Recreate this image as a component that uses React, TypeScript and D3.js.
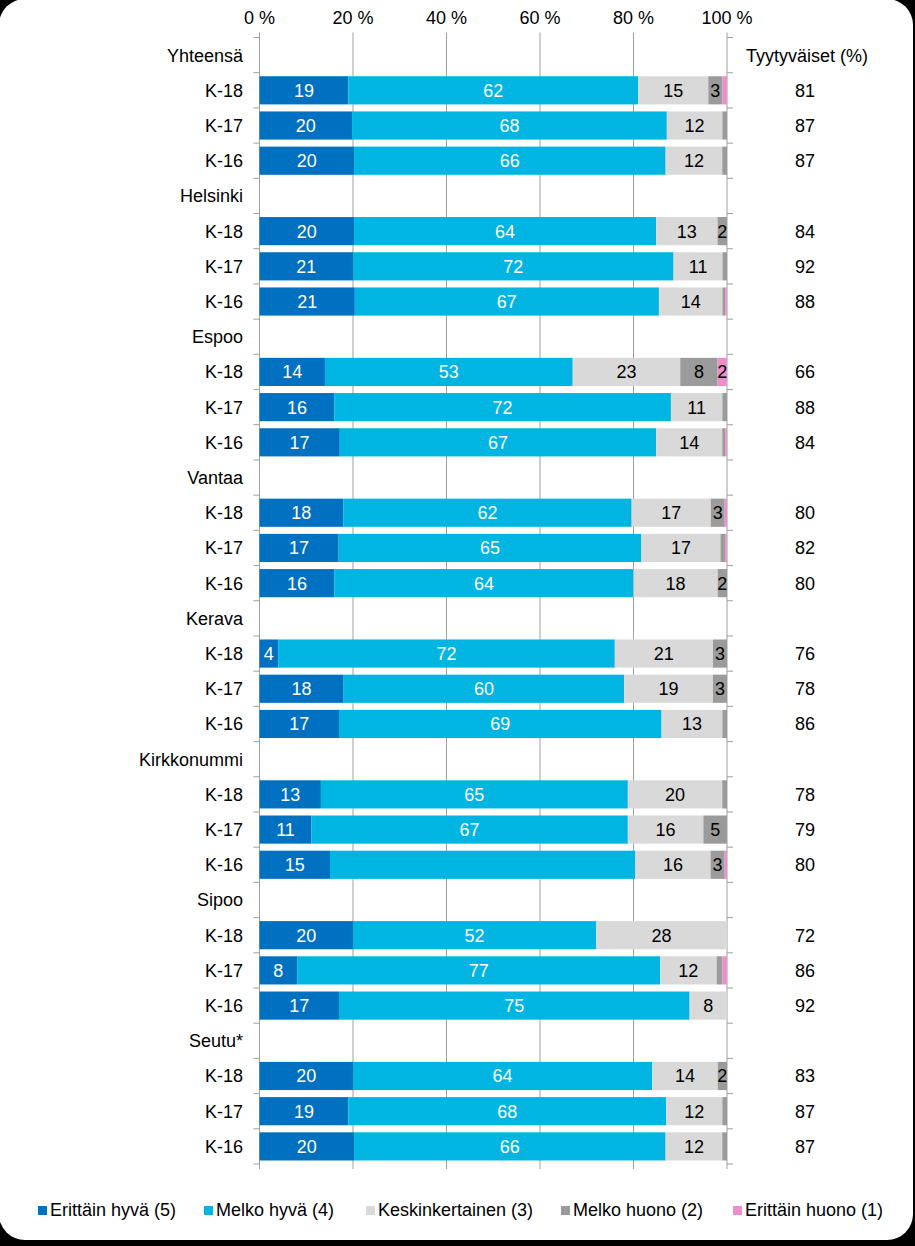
import React from "react";
import * as d3 from "d3";

const groups = ["Yhteensä", "Helsinki", "Espoo", "Vantaa", "Kerava", "Kirkkonummi", "Sipoo", "Seutu*"];
const years = ["K-18", "K-17", "K-16"];
const seriesNames = ["Erittäin hyvä (5)", "Melko hyvä (4)", "Keskinkertainen (3)", "Melko huono (2)", "Erittäin huono (1)"];
const seriesColors = ["#0070C0", "#00B5E2", "#D9D9D9", "#9B9B9B", "#EE8FCB"];
const labelColors = ["#ffffff", "#ffffff", "#000000", "#000000", "#000000"];

// values in group order, each group K-18, K-17, K-16
const erittainHyva = [19, 20, 20, 20, 21, 21, 14, 16, 17, 18, 17, 16, 4, 18, 17, 13, 11, 15, 20, 8, 17, 20, 19, 20];
const melkoHyva = [62, 68, 66, 64, 72, 67, 53, 72, 67, 62, 65, 64, 72, 60, 69, 65, 67, 65, 52, 77, 75, 64, 68, 66];
const keskinkertainen = [15, 12, 12, 13, 11, 14, 23, 11, 14, 17, 17, 18, 21, 19, 13, 20, 16, 16, 28, 12, 8, 14, 12, 12];
const melkoHuono = [3, 1, 1, 2, 1, 0.6, 8, 1, 0.6, 3, 1, 2, 3, 3, 1, 1, 5, 3, 0, 1.2, 0, 2, 1, 1];
const erittainHuono = [1, 0, 0, 0, 0, 0.4, 2, 0, 0.4, 0.5, 0.4, 0, 0, 0, 0, 0, 0, 0.5, 0, 1, 0, 0, 0, 0];
const tyytyvaiset = [81, 87, 87, 84, 92, 88, 66, 88, 84, 80, 82, 80, 76, 78, 86, 78, 79, 80, 72, 86, 92, 83, 87, 87];
const xTicks = [0, 0.2, 0.4, 0.6, 0.8, 1];
const hiddenLabels = ["Kirkkonummi|K-16|1"];

const W = 915;
const H = 1246;
const FONT = "'Liberation Sans', Arial, sans-serif";
const FS = 18;

export default function App() {
  const margin = { left: 259.5, right: 727, top: 37.5, bottom: 1164 };
  const rowIds: string[] = [];
  groups.forEach((g) => {
    rowIds.push(g);
    years.forEach((y) => rowIds.push(`${g}|${y}`));
  });
  const y = d3.scaleBand<string>().domain(rowIds).range([margin.top, margin.bottom]).paddingInner(0.2).paddingOuter(0.1);
  const step = y.step();
  const x = d3.scaleLinear().domain([0, 1]).range([margin.left, margin.right]);

  const rows = groups.flatMap((g, gi) =>
    years.map((yr, yi) => {
      const i = gi * 3 + yi;
      return {
        id: `${g}|${yr}`,
        s0: erittainHyva[i],
        s1: melkoHyva[i],
        s2: keskinkertainen[i],
        s3: melkoHuono[i],
        s4: erittainHuono[i],
        sat: tyytyvaiset[i],
      };
    })
  );
  const keys = ["s0", "s1", "s2", "s3", "s4"];
  const stacked = d3.stack<any>().keys(keys).offset(d3.stackOffsetExpand)(rows as any);

  const rowTop = (id: string) => (y(id) as number) - step * 0.1;
  const boundaries = d3.range(rowIds.length + 1).map((k) => margin.top + k * step);

  const legendTextX = [50, 216, 378, 573, 745];

  return (
    <div style={{ width: W, height: H }}>
      <style>{`body{margin:0;}`}</style>
      <svg width={W} height={H} style={{ display: "block", fontFamily: FONT }}>
        <rect x={0} y={0} width={W} height={H} fill="#000" />
        <rect x={-1} y={-1} width={914} height={1241} rx={26} ry={26} fill="#fff" />

        {/* gridlines */}
        {xTicks.map((t) => (
          <line key={"g" + t} x1={x(t)} x2={x(t)} y1={margin.top - 5} y2={margin.bottom + 5} stroke="#A0A0A0" strokeWidth={1} />
        ))}
        {xTicks.map((t) => (
          <text key={"t" + t} x={x(t)} y={24} textAnchor="middle" fontSize={FS} fill="#000">
            {`${Math.round(t * 100)} %`}
          </text>
        ))}

        {/* left/right axis ticks */}
        {boundaries.map((b, k) => (
          <g key={"b" + k}>
            <line x1={margin.left - 6} x2={margin.left} y1={b} y2={b} stroke="#A0A0A0" />
            <line x1={margin.right} x2={margin.right + 6} y1={b} y2={b} stroke="#A0A0A0" />
          </g>
        ))}

        {/* bars */}
        {stacked.map((layer, si) =>
          layer.map((d, ri) => {
            const id = rows[ri].id;
            const x0 = x(d[0]);
            const x1 = x(d[1]);
            const w = x1 - x0;
            if (w <= 0) return null;
            const yy = y(id) as number;
            const v = (rows[ri] as any)[keys[si]] as number;
            const showLabel = v >= 1.5 && !hiddenLabels.includes(`${id}|${si}`);
            return (
              <g key={`${si}-${ri}`}>
                <rect x={x0} y={yy} width={w} height={y.bandwidth()} fill={seriesColors[si]} />
                {showLabel && (
                  <text x={(x0 + x1) / 2} y={yy + y.bandwidth() / 2 + 6.5} textAnchor="middle" fontSize={FS} fill={labelColors[si]}>
                    {Math.round(v)}
                  </text>
                )}
              </g>
            );
          })
        )}

        {/* category labels */}
        {rowIds.map((id) => {
          const parts = id.split("|");
          const label = parts.length > 1 ? parts[1] : parts[0];
          return (
            <text key={"l" + id} x={243} y={rowTop(id) + step / 2 + 6.5} textAnchor="end" fontSize={FS} fill="#000">
              {label}
            </text>
          );
        })}

        {/* right column */}
        <text x={807} y={rowTop(groups[0]) + step / 2 + 6.5} textAnchor="middle" fontSize={FS} fill="#000">
          Tyytyväiset (%)
        </text>
        {rows.map((r) => (
          <text key={"r" + r.id} x={805} y={rowTop(r.id) + step / 2 + 6.5} textAnchor="middle" fontSize={FS} fill="#000">
            {r.sat}
          </text>
        ))}

        {/* legend */}
        {seriesNames.map((n, i) => (
          <g key={"lg" + i}>
            <rect x={legendTextX[i] - 12} y={1206} width={9} height={9} fill={seriesColors[i]} />
            <text x={legendTextX[i]} y={1216} fontSize={18} fill="#000">
              {n}
            </text>
          </g>
        ))}
      </svg>
    </div>
  );
}
